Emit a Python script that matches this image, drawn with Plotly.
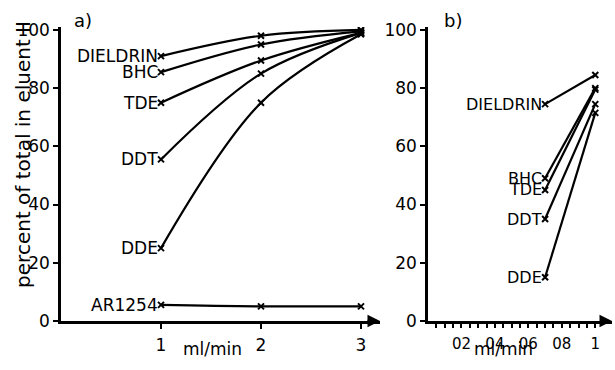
import plotly.graph_objects as go

# ---- data ----
flow_a = [1, 2, 3]
a_dieldrin = [91, 98, 100]
a_bhc = [85.5, 95, 99.5]
a_tde = [75, 89.5, 99]
a_ddt = [55.5, 85, 99]
a_dde = [25, 75, 98.5]
a_ar1254 = [5.5, 5, 5]

flow_b = [0.7, 1.0]
b_dieldrin = [74.5, 84.5]
b_bhc = [49, 80]
b_tde = [45, 79.5]
b_ddt = [35, 74.5]
b_dde = [15, 71.5]

names_a = ["DIELDRIN", "BHC", "TDE", "DDT", "DDE", "AR1254"]
names_b = ["DIELDRIN", "BHC", "TDE", "DDT", "DDE"]

y_ticks = [0, 20, 40, 60, 80, 100]
xa_ticks = [1, 2, 3]
xb_ticks = [0.2, 0.4, 0.6, 0.8, 1.0]
xb_ticktext = ["02", "04", "06", "08", "1"]
xb_minor = [0.05 * i for i in range(1, 21)]

FONT = "DejaVu Sans, sans-serif"
BLACK = "black"

fig = go.Figure()

series_a = [a_dieldrin, a_bhc, a_tde, a_ddt, a_dde, a_ar1254]
series_b = [b_dieldrin, b_bhc, b_tde, b_ddt, b_dde]

for name, ys in zip(names_a, series_a):
    fig.add_trace(go.Scatter(
        x=flow_a, y=ys, mode="lines+markers", name=name,
        line=dict(color=BLACK, width=2.2, shape="spline", smoothing=1),
        marker=dict(symbol="x-thin", size=6, line=dict(color=BLACK, width=2)),
        xaxis="x", yaxis="y", showlegend=False))
    fig.add_annotation(x=flow_a[0], y=ys[0], xref="x", yref="y", text=name,
                       showarrow=False, xanchor="right", yanchor="middle", xshift=-1,
                       font=dict(size=17, color=BLACK, family=FONT))

for name, ys in zip(names_b, series_b):
    fig.add_trace(go.Scatter(
        x=flow_b, y=ys, mode="lines+markers", name=name,
        line=dict(color=BLACK, width=2.2),
        marker=dict(symbol="x-thin", size=6, line=dict(color=BLACK, width=2)),
        xaxis="x2", yaxis="y2", showlegend=False))
    fig.add_annotation(x=flow_b[0], y=ys[0], xref="x2", yref="y2", text=name,
                       showarrow=False, xanchor="right", yanchor="middle", xshift=-1,
                       font=dict(size=16, color=BLACK, family=FONT))

axis_common = dict(showline=True, linecolor=BLACK, linewidth=2.5, showgrid=False,
                   zeroline=False, ticks="outside", tickcolor=BLACK, tickwidth=2)

ydom = [41 / 370, 349 / 370]
fig.update_layout(
    width=615, height=370, margin=dict(l=0, r=0, t=0, b=0),
    paper_bgcolor="white", plot_bgcolor="white",
    font=dict(family=FONT, color=BLACK),
    xaxis=dict(domain=[61 / 615, 380 / 615], range=[0, 3.19], tickvals=xa_ticks,
               ticklen=5, ticklabelstandoff=2, anchor="y",
               tickfont=dict(size=17, color=BLACK, family=FONT), **axis_common),
    yaxis=dict(domain=ydom, range=[0, 101], tickvals=y_ticks, ticklen=5,
               ticklabelstandoff=0, anchor="x",
               tickfont=dict(size=17, color=BLACK, family=FONT), **axis_common),
    xaxis2=dict(domain=[428 / 615, 612 / 615], range=[0, 1.10], tickvals=xb_ticks,
                ticktext=xb_ticktext, ticklen=4, ticklabelstandoff=3, anchor="y2",
                tickfont=dict(size=15, color=BLACK, family=FONT),
                minor=dict(tickvals=xb_minor, ticks="outside", ticklen=4,
                           tickcolor=BLACK, tickwidth=2),
                **axis_common),
    yaxis2=dict(domain=ydom, range=[0, 101], tickvals=y_ticks, ticklen=5,
                ticklabelstandoff=0, anchor="x2",
                tickfont=dict(size=17, color=BLACK, family=FONT), **axis_common),
)

# axis-end arrowheads
fig.add_annotation(x=3.19, y=0, ax=3.05, ay=0, xref="x", yref="y", axref="x", ayref="y",
                   text="", showarrow=True, arrowhead=2, arrowsize=1, arrowwidth=2.5,
                   arrowcolor=BLACK)
fig.add_annotation(x=1.10, y=0, ax=1.02, ay=0, xref="x2", yref="y2", axref="x2", ayref="y2",
                   text="", showarrow=True, arrowhead=2, arrowsize=1, arrowwidth=2.5,
                   arrowcolor=BLACK)

fig.add_annotation(x=23 / 615, y=(370 - 155) / 370, xref="paper", yref="paper",
                   text="percent of total in eluent II", textangle=-90, showarrow=False,
                   xanchor="center", yanchor="middle",
                   font=dict(size=20, color=BLACK, family=FONT))
fig.add_annotation(x=212 / 615, y=0, xref="paper", yref="paper",
                   text="ml/min", showarrow=False, xanchor="center", yanchor="bottom",
                   borderpad=0, font=dict(size=17, color=BLACK, family=FONT))
fig.add_annotation(x=503 / 615, y=0, xref="paper", yref="paper",
                   text="ml/min", showarrow=False, xanchor="center", yanchor="bottom",
                   borderpad=0, font=dict(size=17, color=BLACK, family=FONT))
fig.add_annotation(x=72 / 615, y=(370 - 14) / 370, xref="paper", yref="paper",
                   text="a)", showarrow=False, xanchor="left", yanchor="middle",
                   font=dict(size=18, color=BLACK, family=FONT))
fig.add_annotation(x=442 / 615, y=(370 - 14) / 370, xref="paper", yref="paper",
                   text="b)", showarrow=False, xanchor="left", yanchor="middle",
                   font=dict(size=18, color=BLACK, family=FONT))

fig.write_html("out.html")
